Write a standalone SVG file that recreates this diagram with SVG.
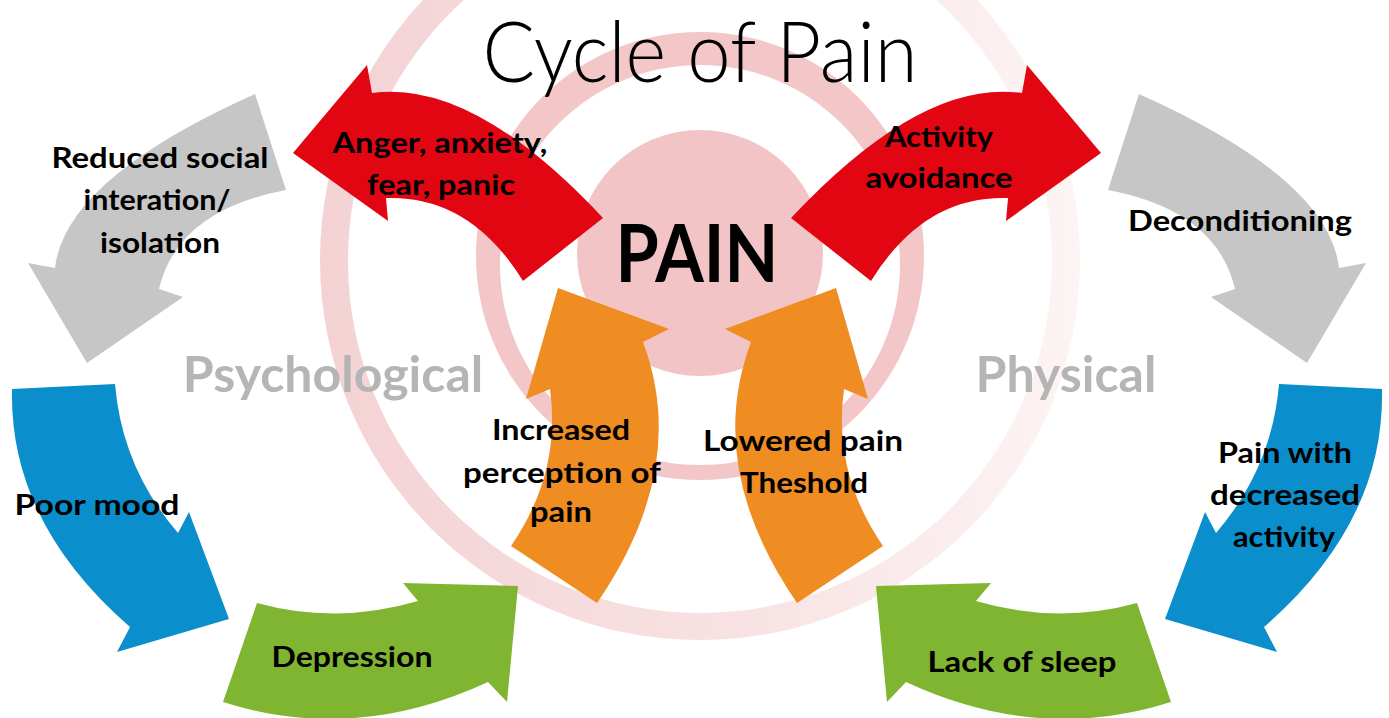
<svg xmlns="http://www.w3.org/2000/svg" width="1389" height="718" viewBox="0 0 1389 718">
<defs>
<linearGradient id="ringFade" x1="0" y1="0" x2="1" y2="0">
<stop offset="0" stop-color="#F4D2D4"/>
<stop offset="0.55" stop-color="#F8E2E3"/>
<stop offset="1" stop-color="#FDF4F4"/>
</linearGradient>
</defs>
<style>
.lbl{font-family:"Lato","Liberation Sans",sans-serif;font-weight:700;font-size:29px;fill:#000;text-anchor:middle}
.side{font-family:"Lato","Liberation Sans",sans-serif;font-weight:700;font-size:50px;fill:#B5B5B5;text-anchor:middle}
.red{fill:#E20613}.gray{fill:#C6C6C6}.blue{fill:#0A8FCC}.green{fill:#80B531}.orange{fill:#EF8C22}
</style>
<rect width="1389" height="718" fill="#fff"/>
<g id="background">
<path fill="url(#ringFade)" fill-rule="evenodd" d="M320,260 a380,380 0 1,0 760,0 a380,380 0 1,0 -760,0 Z M348,261 a352,352 0 1,0 704,0 a352,352 0 1,0 -704,0 Z"/>
<path fill="#F3C6C8" fill-rule="evenodd" d="M476,256 a224,224 0 1,0 448,0 a224,224 0 1,0 -448,0 Z M500,265 a200,200 0 1,0 400,0 a200,200 0 1,0 -400,0 Z"/>
<circle cx="700" cy="253" r="123" fill="#F2C4C6"/>
</g>
<text x="700" y="82" font-family="Lato, 'Liberation Sans', sans-serif" font-weight="300" font-size="84" text-anchor="middle" fill="#000" textLength="435" lengthAdjust="spacingAndGlyphs">Cycle of Pain</text>
<g id="pain">
<text x="697" y="282" font-family="Lato, 'Liberation Sans', sans-serif" font-weight="700" font-size="80" text-anchor="middle" fill="#000" textLength="163" lengthAdjust="spacingAndGlyphs">PAIN</text>
</g>
<text class="side" x="333" y="392">Psychological</text>
<text class="side" x="1066" y="392">Physical</text>
<g id="connectors">
<g id="anger">
<path class="red" d="M603,218 Q472.5,78.5 372,93 L367,65 L293,153 L388,221 L386,198 Q470,195 523,281 Z"/>
<text class="lbl" x="440" y="153" textLength="215" lengthAdjust="spacingAndGlyphs">Anger, anxiety,</text>
<text class="lbl" x="441" y="195" textLength="148" lengthAdjust="spacingAndGlyphs">fear, panic</text>
</g>
<g id="activity-avoidance">
<path class="red" d="M791,218 Q921.5,78.5 1022,93 L1027,65 L1101,153 L1006,221 L1008,198 Q924,195 871,281 Z"/>
<text class="lbl" x="939" y="147" textLength="108" lengthAdjust="spacingAndGlyphs">Activity</text>
<text class="lbl" x="939" y="188" textLength="147" lengthAdjust="spacingAndGlyphs">avoidance</text>
</g>
<g id="reduced-social">
<path class="gray" d="M255,94 Q65,179 55,268 L28,263 L87,363 L183,297 L159,289 Q177.5,210.5 286,190 Z"/>
<text class="lbl" x="160" y="168" textLength="217" lengthAdjust="spacingAndGlyphs">Reduced social</text>
<text class="lbl" x="157" y="210" textLength="147" lengthAdjust="spacingAndGlyphs">interation/</text>
<text class="lbl" x="160" y="253" textLength="120" lengthAdjust="spacingAndGlyphs">isolation</text>
</g>
<g id="deconditioning">
<path class="gray" d="M1139,94 Q1329,179 1339,268 L1366,263 L1307,363 L1211,297 L1235,289 Q1216.5,210.5 1108,190 Z"/>
<text class="lbl" x="1240" y="231" textLength="224" lengthAdjust="spacingAndGlyphs">Deconditioning</text>
</g>
<g id="poor-mood">
<path class="blue" d="M12,389 Q9,522 130,627 L117,652 L229,619 L189,512 L178,533 Q122,468 115,384 Z"/>
<text class="lbl" x="97" y="515" textLength="165" lengthAdjust="spacingAndGlyphs">Poor mood</text>
</g>
<g id="pain-decreased">
<path class="blue" d="M1382,389 Q1385,522 1264,627 L1277,652 L1165,619 L1205,512 L1216,533 Q1272,468 1279,384 Z"/>
<text class="lbl" x="1285" y="463" textLength="134" lengthAdjust="spacingAndGlyphs">Pain with</text>
<text class="lbl" x="1285" y="505" textLength="150" lengthAdjust="spacingAndGlyphs">decreased</text>
<text class="lbl" x="1284" y="547" textLength="102" lengthAdjust="spacingAndGlyphs">activity</text>
</g>
<g id="depression">
<path class="green" d="M257,603 Q337,625 418,601 L403,583 L518,586 L507,702 L488,682 Q354.5,744 223,702 Z"/>
<text class="lbl" x="352" y="667" textLength="161" lengthAdjust="spacingAndGlyphs">Depression</text>
</g>
<g id="lack-of-sleep">
<path class="green" d="M1137,603 Q1057,625 976,601 L991,583 L876,586 L887,702 L906,682 Q1039.5,744 1171,702 Z"/>
<text class="lbl" x="1022" y="672" textLength="189" lengthAdjust="spacingAndGlyphs">Lack of sleep</text>
</g>
<g id="increased-perception">
<path class="orange" d="M643,342 Q690,467.5 597,603 L511,546 Q561.5,472.5 550,389 L526,399 L558,288 L669,329 Z"/>
<text class="lbl" x="561" y="440" textLength="138" lengthAdjust="spacingAndGlyphs">Increased</text>
<text class="lbl" x="562" y="483" textLength="198" lengthAdjust="spacingAndGlyphs">perception of</text>
<text class="lbl" x="561" y="522" textLength="62" lengthAdjust="spacingAndGlyphs">pain</text>
</g>
<g id="lowered-threshold">
<path class="orange" d="M751,342 Q704,467.5 797,603 L883,546 Q832.5,472.5 844,389 L868,399 L836,288 L725,329 Z"/>
<text class="lbl" x="803" y="451" textLength="200" lengthAdjust="spacingAndGlyphs">Lowered pain</text>
<text class="lbl" x="804" y="493" textLength="128" lengthAdjust="spacingAndGlyphs">Theshold</text>
</g>
</g>
</svg>
